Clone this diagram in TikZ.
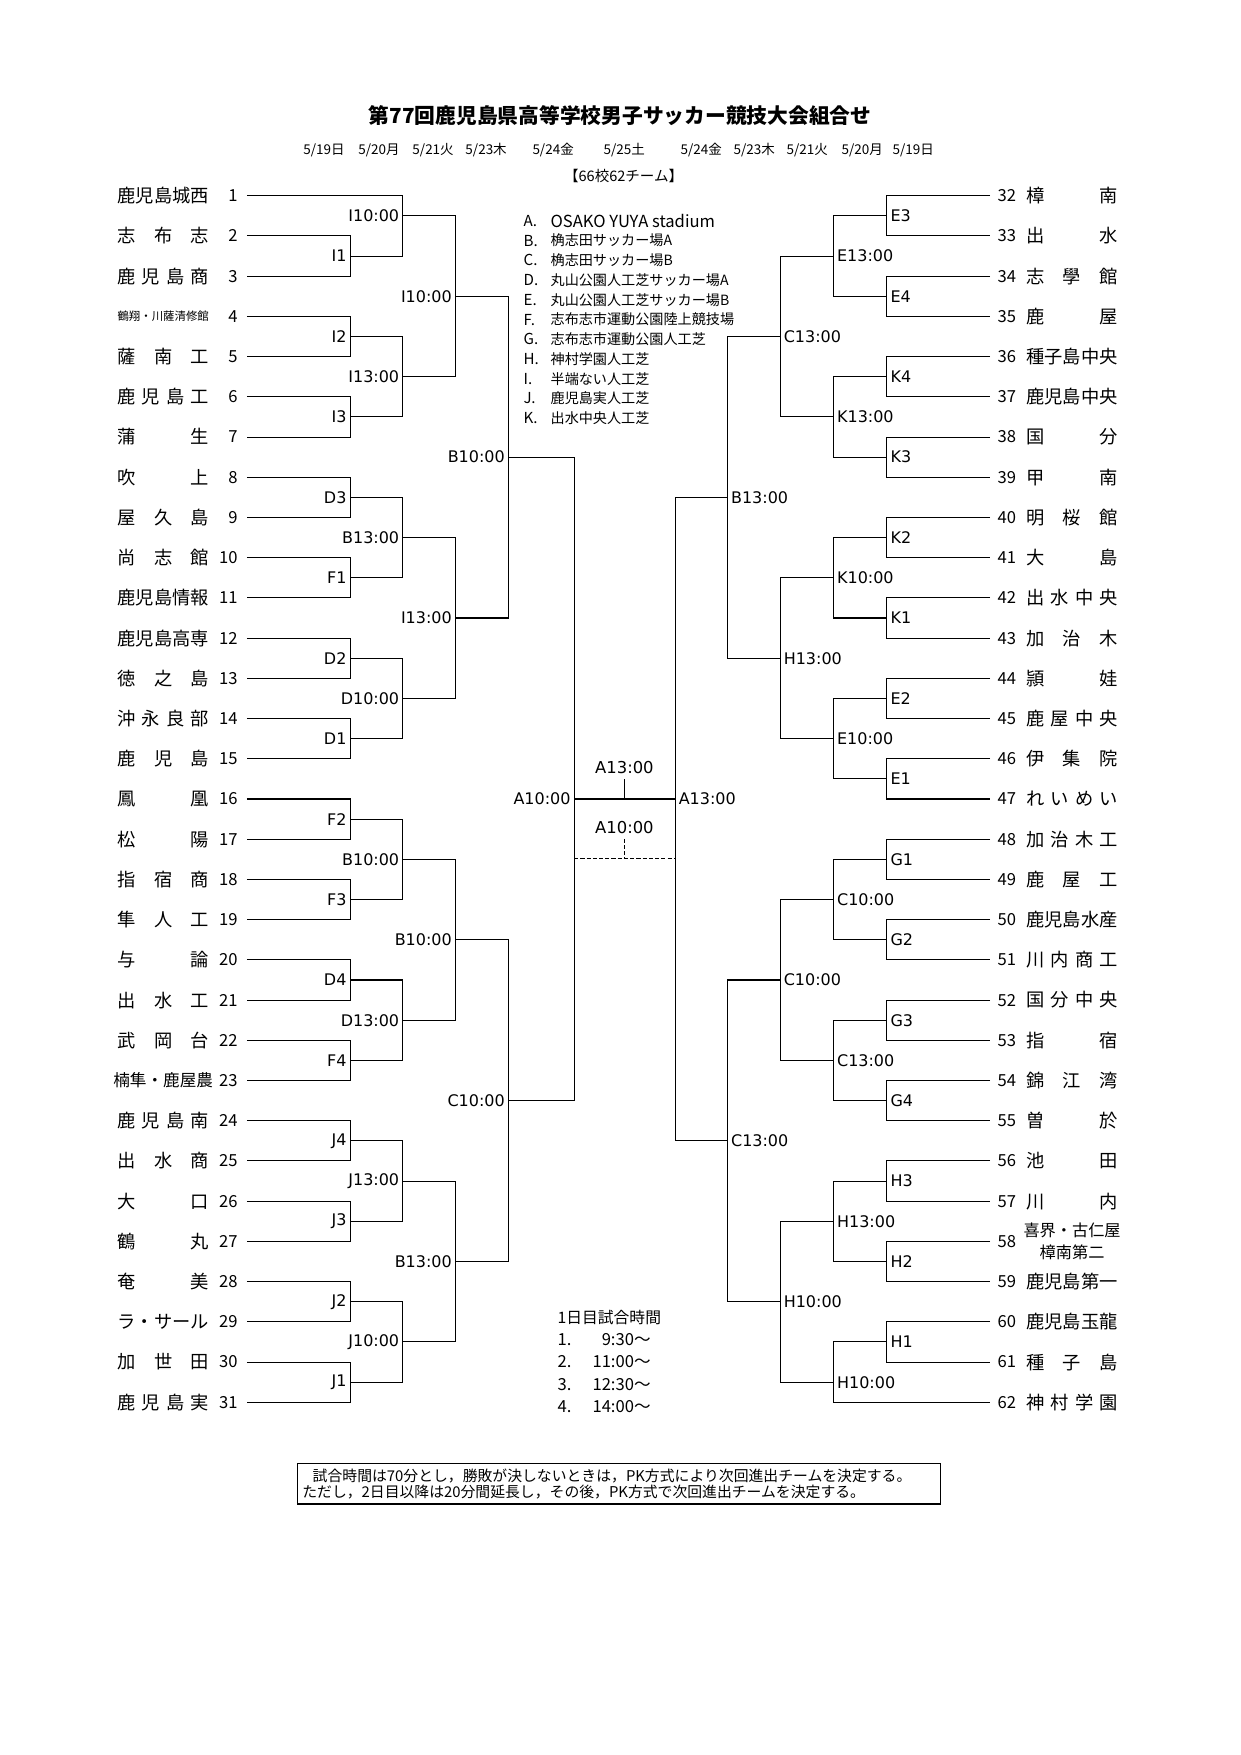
\documentclass[tikz,border=0pt]{standalone}
\usepackage{fontspec}
\setmainfont{Noto Sans CJK JP}
\newfontfamily\lblfont{DejaVu Sans}

\newcommand{\tname}[1]{\makebox[44pt]{#1}}
\newcommand{\game}[7]{%
  \coordinate (#1) at (#2,#3);
  \draw (#4) -- (#4 -| #1) -- (#5 -| #1) -- (#5);
  \node [#7] (lb#1) at (#1) {#6};
}

\begin{document}
\begin{tikzpicture}[x=0.016933cm, y=-0.68105cm, line width=0.5pt,
  gl/.style={anchor=east, inner sep=1.5pt, font=\lblfont\fontsize{7.7}{8}\selectfont},
  gr/.style={anchor=west, inner sep=1.5pt, font=\lblfont\fontsize{7.7}{8}\selectfont},
  numL/.style={anchor=east, inner sep=0pt, font=\fontsize{8}{9}\selectfont},
  numR/.style={anchor=west, inner sep=0pt, font=\fontsize{8}{9}\selectfont},
  team/.style={anchor=west, inner sep=0pt, font=\fontsize{8.8}{10}\selectfont},
  venue/.style={anchor=west, inner sep=0pt, font=\fontsize{6.8}{8}\selectfont}]

\useasboundingbox (0,-3.866) rectangle (1240,39.77);

\node [font=\fontsize{10}{12}\selectfont\bfseries] (title) at (620,-0.994)
  {第77回鹿児島県高等学校男子サッカー競技大会組合せ};

\foreach \x/\d [count=\i] in {324/{5/19日}, 379/{5/20月}, 433/{5/21火}, 486/{5/23木},
    553/{5/24金}, 624/{5/25土}, 701/{5/24金}, 754/{5/23木}, 807/{5/21火},
    862/{5/20月}, 913/{5/19日}}
  \node [font=\fontsize{6.5}{7}\selectfont] (dt\i) at (\x,-0.136) {\d};

\node [font=\fontsize{7}{8}\selectfont] (count) at (623.5,0.51) {【66校62チーム】};

% teams
\foreach \n/\nm in {1/鹿児島城西, 2/{志\hfill 布\hfill 志}, 3/{鹿\hfill 児\hfill 島\hfill 商},
    4/{\fontsize{5.5}{6}\selectfont 鶴翔・川薩清修館}, 5/{薩\hfill 南\hfill 工},
    6/{鹿\hfill 児\hfill 島\hfill 工}, 7/{蒲\hfill 生}, 8/{吹\hfill 上}, 9/{屋\hfill 久\hfill 島},
    10/{尚\hfill 志\hfill 館}, 11/鹿児島情報, 12/鹿児島高専, 13/{徳\hfill 之\hfill 島},
    14/{沖\hfill 永\hfill 良\hfill 部}, 15/{鹿\hfill 児\hfill 島}, 16/{鳳\hfill 凰},
    17/{松\hfill 陽}, 18/{指\hfill 宿\hfill 商}, 19/{隼\hfill 人\hfill 工}, 20/{与\hfill 論},
    21/{出\hfill 水\hfill 工}, 22/{武\hfill 岡\hfill 台}, 23/{\fontsize{8}{9}\selectfont 楠隼・鹿屋農},
    24/{鹿\hfill 児\hfill 島\hfill 南}, 25/{出\hfill 水\hfill 商}, 26/{大\hfill 口},
    27/{鶴\hfill 丸}, 28/{奄\hfill 美}, 29/ラ・サール, 30/{加\hfill 世\hfill 田},
    31/{鹿\hfill 児\hfill 島\hfill 実}} {
  \coordinate (L\n) at (246.7,\n);
  \node [numL] (nL\n) at (238,\n) {\n};
  \node [team] (tL\n) at (117,\n) {\tname{\nm}};
}

\foreach \n/\nm in {32/{樟\hfill 南}, 33/{出\hfill 水}, 34/{志\hfill 學\hfill 館}, 35/{鹿\hfill 屋},
    36/種子島中央, 37/鹿児島中央, 38/{国\hfill 分}, 39/{甲\hfill 南}, 40/{明\hfill 桜\hfill 館},
    41/{大\hfill 島}, 42/{出\hfill 水\hfill 中\hfill 央}, 43/{加\hfill 治\hfill 木}, 44/{頴\hfill 娃},
    45/{鹿\hfill 屋\hfill 中\hfill 央}, 46/{伊\hfill 集\hfill 院}, 47/{れ\hfill い\hfill め\hfill い},
    48/{加\hfill 治\hfill 木\hfill 工}, 49/{鹿\hfill 屋\hfill 工}, 50/鹿児島水産,
    51/{川\hfill 内\hfill 商\hfill 工}, 52/{国\hfill 分\hfill 中\hfill 央}, 53/{指\hfill 宿},
    54/{錦\hfill 江\hfill 湾}, 55/{曽\hfill 於}, 56/{池\hfill 田}, 57/{川\hfill 内},
    58/{\fontsize{7.8}{9}\selectfont\shortstack{喜界・古仁屋\\樟南第二}},
    59/鹿児島第一, 60/鹿児島玉龍, 61/{種\hfill 子\hfill 島}, 62/{神\hfill 村\hfill 学\hfill 園}} {
  \pgfmathtruncatemacro{\rw}{\n-31}
  \coordinate (R\n) at (990,\rw);
  \node [numR] (nR\n) at (997,\rw) {\n};
  \node [team] (tR\n) at (1025.7,\rw) {\tname{\nm}};
}

% left half
\foreach \m/\yy/\pa/\pb in {I1/2.5/L2/L3, I2/4.5/L4/L5, I3/6.5/L6/L7, D3/8.5/L8/L9,
    F1/10.5/L10/L11, D2/12.5/L12/L13, D1/14.5/L14/L15, F2/16.5/L16/L17, F3/18.5/L18/L19,
    D4/20.5/L20/L21, F4/22.5/L22/L23, J4/24.5/L24/L25, J3/26.5/L26/L27, J2/28.5/L28/L29,
    J1/30.5/L30/L31}
  \game{\m}{350}{\yy}{\pa}{\pb}{\m}{gl};

\foreach \m/\yy/\pa/\pb/\lb in {a1/1.5/L1/I1/I10:00, a2/5.5/I2/I3/I13:00, a3/9.5/D3/F1/B13:00,
    a4/13.5/D2/D1/D10:00, a5/17.5/F2/F3/B10:00, a6/21.5/D4/F4/D13:00,
    a7/25.5/J4/J3/J13:00, a8/29.5/J2/J1/J10:00}
  \game{\m}{402.7}{\yy}{\pa}{\pb}{\lb}{gl};

\foreach \m/\yy/\pa/\pb/\lb in {b1/3.5/a1/a2/I10:00, b2/11.5/a3/a4/I13:00,
    b3/19.5/a5/a6/B10:00, b4/27.5/a7/a8/B13:00}
  \game{\m}{455.3}{\yy}{\pa}{\pb}{\lb}{gl};

\game{c1}{508.3}{7.5}{b1}{b2}{B10:00}{gl}
\game{c2}{508.3}{23.5}{b3}{b4}{C10:00}{gl}
\game{fL}{574}{16}{c1}{c2}{A10:00}{gl}

% right half
\foreach \m/\yy/\pa/\pb in {E3/1.5/R32/R33, E4/3.5/R34/R35, K4/5.5/R36/R37, K3/7.5/R38/R39,
    K2/9.5/R40/R41, K1/11.5/R42/R43, E2/13.5/R44/R45, E1/15.5/R46/R47, G1/17.5/R48/R49,
    G2/19.5/R50/R51, G3/21.5/R52/R53, G4/23.5/R54/R55, H3/25.5/R56/R57, H2/27.5/R58/R59,
    H1/29.5/R60/R61}
  \game{\m}{886.7}{\yy}{\pa}{\pb}{\m}{gr};

\foreach \m/\yy/\pa/\pb/\lb in {e1/2.5/E3/E4/E13:00, e2/6.5/K4/K3/K13:00, e3/10.5/K2/K1/K10:00,
    e4/14.5/E2/E1/E10:00, e5/18.5/G1/G2/C10:00, e6/22.5/G3/G4/C13:00,
    e7/26.5/H3/H2/H13:00, e8/30.5/H1/R62/H10:00}
  \game{\m}{833.3}{\yy}{\pa}{\pb}{\lb}{gr};

\foreach \m/\yy/\pa/\pb/\lb in {g1/4.5/e1/e2/C13:00, g2/12.5/e3/e4/H13:00,
    g3/20.5/e5/e6/C10:00, g4/28.5/e7/e8/H10:00}
  \game{\m}{780}{\yy}{\pa}{\pb}{\lb}{gr};

\game{h1}{727.3}{8.5}{g1}{g2}{B13:00}{gr}
\game{h2}{727.3}{24.5}{g3}{g4}{C13:00}{gr}
\game{fR}{675}{16}{h1}{h2}{A13:00}{gr}

% final
\coordinate (fM) at (624.3,16);
\coordinate (fT) at (624.3,15.5);
\draw (fL) -- (fR);
\draw (fM) -- (fT);
\node [font=\lblfont\fontsize{7.9}{8}\selectfont] (lbF) at (624.3,15.23) {A13:00};

\coordinate (dL) at (574,17.49);
\coordinate (dR) at (675,17.49);
\coordinate (dM) at (624.3,17.49);
\coordinate (dT) at (624.3,16.99);
\draw [dash pattern=on 2pt off 1pt] (dL) -- (dR);
\draw [dash pattern=on 2pt off 1pt] (dT) -- (dM);
\node [font=\lblfont\fontsize{7.9}{8}\selectfont] (lbD) at (624.3,16.72) {A10:00};

% venues
\foreach \ltr/\vn [count=\i] in {A./{\fontsize{8}{9}\selectfont OSAKO YUYA stadium},
    B./桷志田サッカー場A, C./桷志田サッカー場B,
    D./丸山公園人工芝サッカー場A, E./丸山公園人工芝サッカー場B, F./志布志市運動公園陸上競技場,
    G./志布志市運動公園人工芝, H./神村学園人工芝, I./半端ない人工芝, J./鹿児島実人工芝,
    K./出水中央人工芝} {
  \pgfmathsetmacro{\yy}{1.627+0.4906*(\i-1)}
  \node [venue, font=\fontsize{7.3}{8}\selectfont] (vk\i) at (523,\yy) {\ltr};
  \node [venue] (vn\i) at (550,\yy) {\vn};
}

% first day times
\node [anchor=west, inner sep=0pt, font=\fontsize{7.6}{9}\selectfont] (tm0) at (557,28.88) {1日目試合時間};
\foreach \i/\tm in {1/9:30〜, 2/11:00〜, 3/12:30〜, 4/14:00〜} {
  \pgfmathsetmacro{\yy}{28.88+0.557*\i}
  \node [anchor=west, inner sep=0pt, font=\fontsize{8}{9}\selectfont] (tn\i) at (557,\yy) {\i.};
  \node [anchor=east, inner sep=0pt, font=\fontsize{8}{9}\selectfont] (tt\i) at (651,\yy) {\tm};
}

\node [draw, anchor=north west, minimum width=309.6pt, minimum height=19.5pt, inner sep=1.5pt,
  align=left, text width=305pt, font=\fontsize{7.15}{7.6}\selectfont] (note) at (297,32.51)
  {\hspace*{5pt}試合時間は70分とし，勝敗が決しないときは，PK方式により次回進出チームを決定する。\\
   ただし，2日目以降は20分間延長し，その後，PK方式で次回進出チームを決定する。};

\end{tikzpicture}
\end{document}
